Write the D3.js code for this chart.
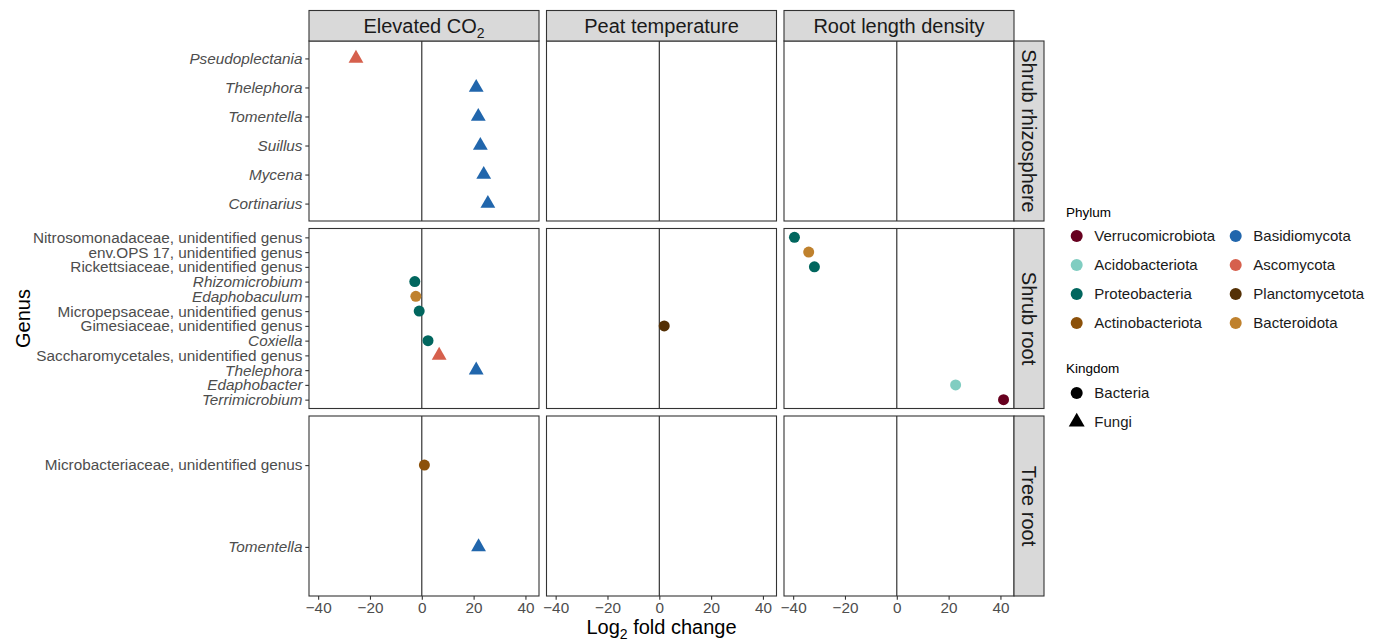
<!DOCTYPE html>
<html lang="en">
<head>
  <meta charset="UTF-8">
  <title>Log2 fold change by genus</title>
  <script src="https://d3js.org/d3.v7.min.js"></script>
  <style>
    body { margin: 0; background: #fff; }
    text { font-family: "Liberation Sans", Arial, sans-serif; }
  </style>
</head>
<body>
<div id="chart"></div>
<script>

// facets
var colLabels = ["Elevated CO2", "Peat temperature", "Root length density"];
var rowLabels = ["Shrub rhizosphere", "Shrub root", "Tree root"];

// genera per row, top to bottom
var genusShrubRhizo = ["Pseudoplectania", "Thelephora", "Tomentella", "Suillus", "Mycena", "Cortinarius"];
var genusShrubRoot = ["Nitrosomonadaceae, unidentified genus", "env.OPS 17, unidentified genus",
  "Rickettsiaceae, unidentified genus", "Rhizomicrobium", "Edaphobaculum",
  "Micropepsaceae, unidentified genus", "Gimesiaceae, unidentified genus", "Coxiella",
  "Saccharomycetales, unidentified genus", "Thelephora", "Edaphobacter", "Terrimicrobium"];
var genusTreeRoot = ["Microbacteriaceae, unidentified genus", "Tomentella"];
var rowGenera = [genusShrubRhizo, genusShrubRoot, genusTreeRoot];

// points
var ptRow = [0, 0, 0, 0, 0, 0, 1, 1, 1, 1, 1, 1, 1, 1, 1, 1, 1, 1, 2, 2];
var ptCol = [0, 0, 0, 0, 0, 0, 0, 0, 0, 0, 0, 0, 1, 2, 2, 2, 2, 2, 0, 0];
var ptGenus = ["Pseudoplectania", "Thelephora", "Tomentella", "Suillus", "Mycena", "Cortinarius",
  "Rhizomicrobium", "Edaphobaculum", "Micropepsaceae, unidentified genus", "Coxiella",
  "Saccharomycetales, unidentified genus", "Thelephora",
  "Gimesiaceae, unidentified genus",
  "Nitrosomonadaceae, unidentified genus", "env.OPS 17, unidentified genus",
  "Rickettsiaceae, unidentified genus", "Edaphobacter", "Terrimicrobium",
  "Microbacteriaceae, unidentified genus", "Tomentella"];
var ptLfc = [-25.4, 21.0, 21.8, 22.6, 23.9, 25.5,
  -2.7, -2.3, -1.0, 2.4, 6.7, 21.0,
  1.9,
  -39.5, -34.0, -31.8, 22.7, 41.2,
  1.0, 21.9];
var ptPhylum = ["Ascomycota", "Basidiomycota", "Basidiomycota", "Basidiomycota", "Basidiomycota", "Basidiomycota",
  "Proteobacteria", "Bacteroidota", "Proteobacteria", "Proteobacteria", "Ascomycota", "Basidiomycota",
  "Planctomycetota",
  "Proteobacteria", "Bacteroidota", "Proteobacteria", "Acidobacteriota", "Verrucomicrobiota",
  "Actinobacteriota", "Basidiomycota"];

// legend
var phyla = ["Verrucomicrobiota", "Acidobacteriota", "Proteobacteria", "Actinobacteriota",
  "Basidiomycota", "Ascomycota", "Planctomycetota", "Bacteroidota"];
var phylaColors = ["#67001f", "#80cdc1", "#01665e", "#8c510a",
  "#2166ac", "#d6604d", "#543005", "#bf812d"];
var fungalPhyla = ["Basidiomycota", "Ascomycota"];
var kingdoms = ["Bacteria", "Fungi"];
var xTicks = [-40, -20, 0, 20, 40];

var width = 1378, height = 641;
var panel = {left: 309, top: 41, w: 230, h: 180, gap: 7.5};
var stripH = 30.5, stripW = 30;

var svg = d3.select("#chart").append("svg")
  .attr("width", width)
  .attr("height", height);

var color = d3.scaleOrdinal().domain(phyla).range(phylaColors);

// x range from data, with 5% expansion like ggplot
var ext = d3.extent(ptLfc);
var pad = (ext[1] - ext[0]) * 0.05;
var xDomain = [ext[0] - pad, ext[1] + pad];

function px(c) { return panel.left + c * (panel.w + panel.gap); }
function py(r) { return panel.top + r * (panel.h + panel.gap); }

var xScales = colLabels.map((d, c) => d3.scaleLinear().domain(xDomain).range([px(c), px(c) + panel.w]));
var yScales = rowGenera.map((g, r) => d3.scalePoint().domain(g).range([py(r), py(r) + panel.h]).padding(0.6));

var triangle = d3.symbol().type(d3.symbolTriangle).size(95);
var circleR = 5.5;

function isItalic(name) { return name.indexOf("unidentified genus") < 0; }

rowGenera.forEach(function(genera, r) {
  colLabels.forEach(function(lab, c) {
    var x = xScales[c], y = yScales[r];
    var g = svg.append("g");

    g.append("rect")
      .attr("x", px(c)).attr("y", py(r))
      .attr("width", panel.w).attr("height", panel.h)
      .attr("fill", "#fff");

    g.append("line")
      .attr("x1", x(0)).attr("x2", x(0))
      .attr("y1", py(r)).attr("y2", py(r) + panel.h)
      .attr("stroke", "#222").attr("stroke-width", 1.1);

    var idx = d3.range(ptLfc.length).filter(i => ptRow[i] === r && ptCol[i] === c);
    idx.forEach(function(i) {
      var fungi = fungalPhyla.indexOf(ptPhylum[i]) >= 0;
      if (fungi) {
        g.append("path")
          .attr("d", triangle)
          .attr("transform", "translate(" + x(ptLfc[i]) + "," + y(ptGenus[i]) + ")")
          .attr("fill", color(ptPhylum[i]));
      } else {
        g.append("circle")
          .attr("cx", x(ptLfc[i])).attr("cy", y(ptGenus[i]))
          .attr("r", circleR)
          .attr("fill", color(ptPhylum[i]));
      }
    });

    g.append("rect")
      .attr("x", px(c)).attr("y", py(r))
      .attr("width", panel.w).attr("height", panel.h)
      .attr("fill", "none")
      .attr("stroke", "#333").attr("stroke-width", 1.1);

    // y axis on the left column
    if (c === 0) {
      var ya = svg.append("g")
        .attr("transform", "translate(" + px(0) + ",0)")
        .call(d3.axisLeft(y).tickSize(3.7).tickPadding(2.8));
      ya.select(".domain").remove();
      ya.selectAll(".tick line").attr("stroke", "#333").attr("stroke-width", 1.1);
      ya.selectAll(".tick text")
        .attr("fill", "#4d4d4d")
        .attr("font-size", "15.3px")
        .attr("font-family", "Liberation Sans, Arial, sans-serif")
        .attr("font-style", d => isItalic(d) ? "italic" : "normal");
    }

    // x axis on the bottom row
    if (r === rowGenera.length - 1) {
      var xa = svg.append("g")
        .attr("transform", "translate(0," + (py(r) + panel.h) + ")")
        .call(d3.axisBottom(x).tickValues(xTicks).tickSize(3.7).tickPadding(2.5)
          .tickFormat(d => d < 0 ? "\u2212" + Math.abs(d) : d));
      xa.select(".domain").remove();
      xa.selectAll(".tick line").attr("stroke", "#333").attr("stroke-width", 1.1);
      xa.selectAll(".tick text")
        .attr("fill", "#4d4d4d")
        .attr("font-size", "15.3px")
        .attr("font-family", "Liberation Sans, Arial, sans-serif");
    }
  });
});

// top strips
colLabels.forEach(function(lab, c) {
  svg.append("rect")
    .attr("x", px(c)).attr("y", panel.top - stripH)
    .attr("width", panel.w).attr("height", stripH)
    .attr("fill", "#d9d9d9").attr("stroke", "#333").attr("stroke-width", 1.1);
  var t = svg.append("text")
    .attr("x", px(c) + panel.w / 2)
    .attr("y", panel.top - stripH / 2 + 7)
    .attr("text-anchor", "middle")
    .attr("font-size", "20px")
    .attr("fill", "#1a1a1a");
  if (lab.slice(-3) === "CO2") {
    t.append("tspan").text(lab.slice(0, -1));
    t.append("tspan").attr("font-size", "14px").attr("dy", 5).text("2");
  } else {
    t.text(lab);
  }
});

// right strips
rowLabels.forEach(function(lab, r) {
  var sx = px(colLabels.length - 1) + panel.w;
  svg.append("rect")
    .attr("x", sx).attr("y", py(r))
    .attr("width", stripW).attr("height", panel.h)
    .attr("fill", "#d9d9d9").attr("stroke", "#333").attr("stroke-width", 1.1);
  svg.append("text")
    .attr("transform", "translate(" + (sx + stripW / 2 - 7) + "," + (py(r) + panel.h / 2) + ") rotate(90)")
    .attr("text-anchor", "middle")
    .attr("font-size", "20px")
    .attr("fill", "#1a1a1a")
    .text(lab);
});

// axis titles
var xt = svg.append("text")
  .attr("x", (px(0) + px(2) + panel.w) / 2)
  .attr("y", 634)
  .attr("text-anchor", "middle")
  .attr("font-size", "20px")
  .attr("fill", "#000");
xt.append("tspan").text("Log");
xt.append("tspan").attr("font-size", "14px").attr("dy", 5).text("2");
xt.append("tspan").attr("dy", -5).text(" fold change");

svg.append("text")
  .attr("transform", "translate(29.5," + (py(0) + py(2) + panel.h) / 2 + ") rotate(-90)")
  .attr("text-anchor", "middle")
  .attr("font-size", "20px")
  .attr("fill", "#000")
  .text("Genus");

// legend: phylum
var lg = svg.append("g").attr("transform", "translate(1066,0)");
lg.append("text").attr("x", 0).attr("y", 216.5)
  .attr("font-size", "13.5px").attr("fill", "#000").text("Phylum");
phyla.forEach(function(p, i) {
  var col = Math.floor(i / 4), row = i % 4;
  var cx = 10.7 + col * 159, cy = 236 + row * 29;
  lg.append("circle").attr("cx", cx).attr("cy", cy).attr("r", 6).attr("fill", color(p));
  lg.append("text").attr("x", cx + 17.6).attr("y", cy).attr("dy", "0.36em")
    .attr("font-size", "15px").attr("fill", "#1a1a1a").text(p);
});

// legend: kingdom
lg.append("text").attr("x", 0).attr("y", 373)
  .attr("font-size", "13.5px").attr("fill", "#000").text("Kingdom");
kingdoms.forEach(function(k, i) {
  var cx = 10.7, cy = 393 + i * 29;
  if (k === "Fungi") {
    lg.append("path").attr("d", d3.symbol().type(d3.symbolTriangle).size(110))
      .attr("transform", "translate(" + cx + "," + cy + ")").attr("fill", "#000");
  } else {
    lg.append("circle").attr("cx", cx).attr("cy", cy).attr("r", 6).attr("fill", "#000");
  }
  lg.append("text").attr("x", cx + 17.6).attr("y", cy).attr("dy", "0.36em")
    .attr("font-size", "15px").attr("fill", "#1a1a1a").text(k);
});

</script>
</body>
</html>
